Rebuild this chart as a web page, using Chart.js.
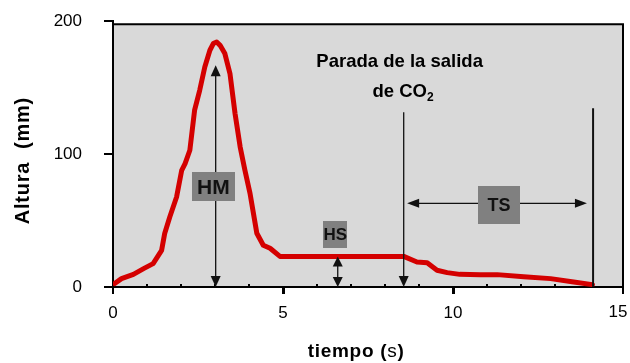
<!DOCTYPE html>
<html>
<head>
<meta charset="utf-8">
<script src="https://cdn.jsdelivr.net/npm/chart.js@4.4.1/dist/chart.umd.min.js"></script>
<style>
  html, body { margin: 0; padding: 0; background: #fff; }
  canvas { display: block; }
</style>
</head>
<body>
<canvas id="chart" width="630" height="363"></canvas>
<script>
// foam height curve
const timeS = [0.05, 0.25, 0.6, 0.9, 1.18, 1.43, 1.52, 1.67, 1.87, 2.02, 2.12, 2.26, 2.4, 2.55, 2.7, 2.85, 2.95, 3.05, 3.15, 3.29, 3.44, 3.59, 3.74, 3.88, 4.03, 4.23, 4.42, 4.62, 4.91, 5.2, 8.55, 8.94, 9.24, 9.53, 9.83, 10.2, 10.8, 11.3, 12.08, 12.87, 13.55, 14.1];
const heightMm = [2.6, 6.3, 9.5, 13.8, 17.6, 27.6, 40.2, 52.6, 67.7, 87.7, 92.8, 102.8, 132.9, 147.9, 165.4, 178, 183, 184.2, 181.7, 175.5, 160.5, 130.4, 105.3, 87.7, 70.4, 40.4, 31.4, 29.1, 23, 23, 23, 18.8, 18.3, 12.6, 10.8, 9.5, 9.3, 9.3, 7.7, 6.3, 3.8, 1.8];
const xTicks = [0, 5, 10, 15];
const yTicks = [0, 100, 200];

const FONT = '"Liberation Sans", Arial, sans-serif';
const RED = '#d40000';
const TAG_GREY = '#808080';

// annotation anchors (data units)
const stopX = 8.55;   // parada de la salida de CO2
const endX = 14.12;   // fin
const hmX = 3.02, hmTop = 166.7;
const hsX = 6.61, hsTop = 23;
const tsY = 62.9, tsFrom = 8.65, tsTo = 13.94;

function head(ctx, x, y, dir, len = 11, half = 5) {
  ctx.beginPath();
  ctx.moveTo(x, y);
  if (dir === 'up') { ctx.lineTo(x - half, y + len); ctx.lineTo(x + half, y + len); }
  if (dir === 'down') { ctx.lineTo(x - half, y - len); ctx.lineTo(x + half, y - len); }
  if (dir === 'left') { ctx.lineTo(x + len, y - half); ctx.lineTo(x + len, y + half); }
  if (dir === 'right') { ctx.lineTo(x - len, y - half); ctx.lineTo(x - len, y + half); }
  ctx.closePath();
  ctx.fill();
}

function line(ctx, x1, y1, x2, y2, w) {
  ctx.lineWidth = w;
  ctx.beginPath();
  ctx.moveTo(x1, y1);
  ctx.lineTo(x2, y2);
  ctx.stroke();
}

function tag(ctx, cx, cy, w, h, text, size) {
  ctx.fillStyle = TAG_GREY;
  ctx.fillRect(Math.round(cx - w / 2), Math.round(cy - h / 2), w, h);
  ctx.fillStyle = '#111';
  ctx.font = `bold ${size}px ${FONT}`;
  ctx.textAlign = 'center';
  ctx.textBaseline = 'middle';
  ctx.fillText(text, cx, cy + 1);
}

const annotate = {
  id: 'annotate',
  beforeDraw(chart) {
    const { ctx, chartArea: a, scales: { y } } = chart;
    const top = y.getPixelForValue(197.5);
    ctx.save();
    ctx.fillStyle = '#d9d9d9';
    ctx.fillRect(a.left, top, a.right - a.left, a.bottom - top);
    ctx.strokeStyle = '#000';
    ctx.lineWidth = 2;
    ctx.beginPath();
    ctx.moveTo(a.left, top);
    ctx.lineTo(a.right, top);
    ctx.lineTo(a.right, a.bottom);
    ctx.stroke();
    ctx.restore();
  },
  beforeDatasetsDraw(chart) {
    const { ctx, scales: { x, y } } = chart;
    ctx.save();
    ctx.fillStyle = '#000';
    const y0 = y.getPixelForValue(0);
    for (let i = 1; i < 15; i++) {
      if (i % 5 === 0) continue;
      ctx.fillRect(Math.round(x.getPixelForValue(i)) - 1, y0 - 3, 2, 2);
    }
    ctx.restore();
  },
  afterDatasetsDraw(chart) {
    const { ctx, scales: { x, y } } = chart;
    const y0 = y.getPixelForValue(0);
    ctx.save();
    ctx.strokeStyle = '#111';
    ctx.fillStyle = '#111';

    // HM
    let px = x.getPixelForValue(hmX);
    line(ctx, px, y.getPixelForValue(hmTop) + 8, px, y0 - 8, 1.3);
    head(ctx, px, y.getPixelForValue(hmTop), 'up', 11, 5);
    head(ctx, px, y0, 'down', 11, 5);
    tag(ctx, x.getPixelForValue(2.95), y.getPixelForValue(75.3), 43, 29, 'HM', 21);

    // HS
    ctx.fillStyle = '#111';
    px = x.getPixelForValue(hsX);
    line(ctx, px, y.getPixelForValue(hsTop) + 8, px, y0 - 8, 1.3);
    head(ctx, px, y.getPixelForValue(hsTop), 'up', 10, 5);
    head(ctx, px, y0, 'down', 10, 5);
    tag(ctx, x.getPixelForValue(6.54), y.getPixelForValue(39.3), 24, 27, 'HS', 17);

    // vertical markers
    ctx.fillStyle = '#111';
    px = x.getPixelForValue(stopX);
    line(ctx, px, y.getPixelForValue(131.4), px, y0 - 8, 1.3);
    head(ctx, px, y0, 'down', 11, 5);
    px = x.getPixelForValue(endX);
    line(ctx, px, y.getPixelForValue(134.4), px, y0, 2);

    // TS
    const py = y.getPixelForValue(tsY);
    line(ctx, x.getPixelForValue(tsFrom) + 8, py, x.getPixelForValue(tsTo) - 8, py, 1.3);
    head(ctx, x.getPixelForValue(tsFrom), py, 'left', 12, 4.5);
    head(ctx, x.getPixelForValue(tsTo), py, 'right', 12, 4.5);
    tag(ctx, x.getPixelForValue(11.35), y.getPixelForValue(61.4), 42, 38, 'TS', 18);

    // Parada de la salida de CO2
    ctx.fillStyle = '#000';
    ctx.font = `bold 18.5px ${FONT}`;
    ctx.textAlign = 'center';
    ctx.textBaseline = 'alphabetic';
    ctx.fillText('Parada de la salida', x.getPixelForValue(8.43), y.getPixelForValue(165.2));
    const main = 'de CO';
    const wMain = ctx.measureText(main).width;
    ctx.font = `bold 12px ${FONT}`;
    const wSub = ctx.measureText('2').width;
    const lx = x.getPixelForValue(8.53) - (wMain + wSub) / 2;
    const base = y.getPixelForValue(142.6);
    ctx.textAlign = 'left';
    ctx.font = `bold 18.5px ${FONT}`;
    ctx.fillText(main, lx, base);
    ctx.font = `bold 12px ${FONT}`;
    ctx.fillText('2', lx + wMain, base + 4);
    ctx.restore();
  },
  afterDraw(chart) {
    const { ctx, scales: { x, y } } = chart;
    ctx.save();
    ctx.fillStyle = '#000';
    // last x label sits just inside the canvas
    ctx.font = `17px ${FONT}`;
    ctx.textAlign = 'center';
    ctx.textBaseline = 'top';
    ctx.fillText(String(xTicks[xTicks.length - 1]), x.getPixelForValue(15) - 5, y.getPixelForValue(0) + 17);

    ctx.letterSpacing = '0.7px';
    ctx.textBaseline = 'alphabetic';
    ctx.textAlign = 'left';
    // x title, mixed weights
    const parts = [['tiempo (', 'bold'], ['s', 'normal'], [')', 'bold']];
    let total = 0;
    parts.forEach(([t, w]) => { ctx.font = `${w} 19px ${FONT}`; total += ctx.measureText(t).width; });
    let cx = x.getPixelForValue(7.15) - total / 2;
    parts.forEach(([t, w]) => {
      ctx.font = `${w} 19px ${FONT}`;
      ctx.fillText(t, cx, chart.height - 6);
      cx += ctx.measureText(t).width;
    });
    // y title
    ctx.translate(29, y.getPixelForValue(95));
    ctx.rotate(-Math.PI / 2);
    ctx.textAlign = 'center';
    ctx.letterSpacing = '0.8px';
    ctx.font = `bold 20px ${FONT}`;
    ctx.fillText('Altura  (mm)', 0, 0);
    ctx.restore();
  }
};

new Chart(document.getElementById('chart'), {
  type: 'line',
  data: {
    datasets: [{
      data: timeS.map((t, i) => ({ x: t, y: heightMm[i] })),
      borderColor: RED,
      borderWidth: 5,
      pointRadius: 0,
      tension: 0,
      borderJoinStyle: 'round',
      borderCapStyle: 'round',
      fill: false
    }]
  },
  options: {
    responsive: false,
    animation: false,
    devicePixelRatio: 1,
    layout: { padding: { top: 21, right: 7, left: 0, bottom: 0 } },
    plugins: { legend: { display: false }, tooltip: { enabled: false } },
    scales: {
      x: {
        type: 'linear',
        min: 0,
        max: 15,
        afterBuildTicks: (s) => { s.ticks = xTicks.map((v) => ({ value: v })); },
        afterFit: (s) => { s.height = 76; s.paddingLeft = 0; s.paddingRight = 0; },
        ticks: {
          color: '#000',
          font: { family: FONT, size: 17 },
          padding: 9,
          maxRotation: 0,
          callback: (v) => (v === 15 ? '' : v)
        },
        grid: {
          drawOnChartArea: false,
          tickLength: 7,
          color: '#000',
          lineWidth: (c) => (c.tick && (c.tick.value === 5 || c.tick.value === 10) ? 3 : 2)
        },
        border: { color: '#000', width: 2 }
      },
      y: {
        min: 0,
        max: 200,
        afterBuildTicks: (s) => { s.ticks = yTicks.map((v) => ({ value: v })); },
        afterFit: (s) => { s.width = 113; s.paddingTop = 0; s.paddingBottom = 0; },
        ticks: { color: '#000', font: { family: FONT, size: 17 }, padding: 22 },
        grid: { drawOnChartArea: false, tickLength: 9, color: '#000', lineWidth: 2 },
        border: { color: '#000', width: 2 }
      }
    }
  },
  plugins: [annotate]
});
</script>
</body>
</html>
